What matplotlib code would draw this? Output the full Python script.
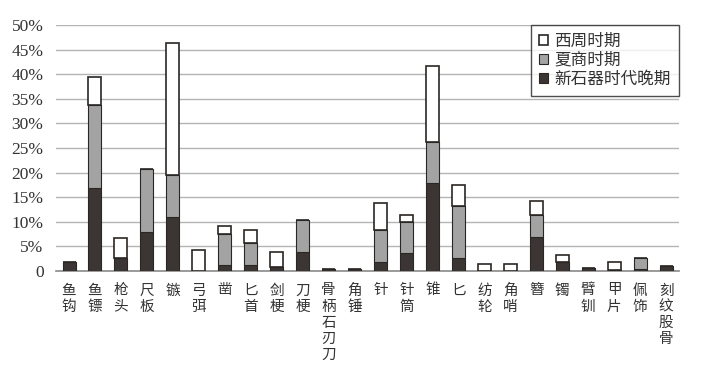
import matplotlib
matplotlib.use("Agg")
import matplotlib.pyplot as plt
from matplotlib.ticker import FuncFormatter
import numpy as np

# 器物类别
cats = ["鱼钩", "鱼镖", "枪头", "尺板", "镞", "弓弭", "凿", "匕首", "剑梗", "刀梗",
        "骨柄石刃刀", "角锤", "针", "针筒", "锥", "匕", "纺轮", "角哨", "簪", "镯",
        "臂钏", "甲片", "佩饰", "刻纹股骨"]

# 各时期所占比例 (%)
neo = [1.9, 16.9, 2.6, 8.0, 11.0, 0, 1.3, 1.2, 0.9, 3.9, 0.5, 0.5,
       1.8, 3.6, 17.8, 2.6, 0, 0, 7.0, 1.9, 0.6, 0.3, 0.4, 1.0]
xia = [0, 16.9, 0, 12.7, 8.6, 0, 6.3, 4.4, 0, 6.5, 0, 0,
       6.5, 6.3, 8.5, 10.6, 0, 0, 4.3, 0, 0, 0, 2.2, 0]
zhou = [0, 5.7, 4.2, 0, 26.7, 4.3, 1.5, 2.7, 2.9, 0, 0, 0,
        5.5, 1.4, 15.4, 4.3, 1.5, 1.5, 2.9, 1.3, 0, 1.6, 0, 0]

series = ["新石器时代晚期", "夏商时期", "西周时期"]
colors = ["#3b3634", "#a3a3a3", "#ffffff"]

cjk = ["Noto Sans CJK SC", "DejaVu Sans"]

fig = plt.figure(figsize=(7.12, 3.70), dpi=100)
ax = fig.add_axes([0.0787, 0.2676, 0.875, 0.6649])

x = np.arange(len(cats))
neo_v = np.array(neo) / 100
xia_v = np.array(xia) / 100
zhou_v = np.array(zhou) / 100

w = 0.5
ec = "#2a2624"
b1 = ax.bar(x, neo_v, w, color=colors[0], edgecolor=ec, linewidth=0.8, zorder=3)
b2 = ax.bar(x, xia_v, w, bottom=neo_v, color=colors[1], edgecolor=ec, linewidth=0.8, zorder=3)
b3 = ax.bar(x, zhou_v, w, bottom=neo_v + xia_v, color=colors[2], edgecolor=ec, linewidth=1.2, zorder=3)

ax.set_xlim(-0.5, len(cats) - 0.5)
ax.set_ylim(0, 0.5)
ax.set_yticks(np.arange(0, 0.51, 0.05))
ax.yaxis.set_major_formatter(FuncFormatter(lambda v, p: "0" if v == 0 else "%d%%" % round(v * 100)))
ax.grid(axis="y", color="#b4b4b4", linewidth=1.0, zorder=0)
for s in ["top", "right", "left"]:
    ax.spines[s].set_visible(False)
ax.spines["bottom"].set_color("#8a8a8a")
ax.spines["bottom"].set_linewidth(1.2)

ax.set_xticks(x)
ax.set_xticklabels(["\n".join(c) for c in cats], family=cjk, fontsize=10.5,
                   va="top", linespacing=1.2, color="#333333")
ax.tick_params(axis="x", length=0, pad=9)
ax.tick_params(axis="y", length=0, pad=9)
for t in ax.get_yticklabels():
    t.set_family("Liberation Serif")
    t.set_fontsize(12.5)
    t.set_color("#333333")

leg = ax.legend([b3, b2, b1], [series[2], series[1], series[0]],
                loc="upper right", bbox_to_anchor=(1.0, 1.0),
                prop={"family": cjk, "size": 12}, frameon=True, fancybox=False,
                edgecolor="#222222", handlelength=0.55, handleheight=0.55,
                handletextpad=0.35, borderpad=0.5, labelspacing=0.1,
                borderaxespad=0.0)
leg.get_frame().set_linewidth(1.0)
for t in leg.get_texts():
    t.set_color("#333333")

fig.savefig("out.png", dpi=100)
